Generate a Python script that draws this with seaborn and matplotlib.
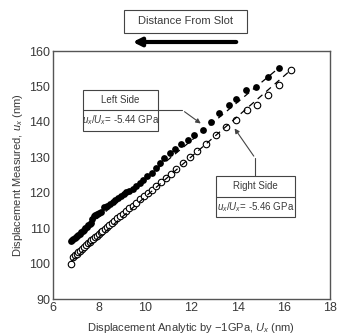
import matplotlib
matplotlib.use('Agg')
import matplotlib.pyplot as plt
from matplotlib.patches import Rectangle
import seaborn as sns
import pandas as pd

# left side (filled) measured points
left_x = [6.78, 6.83, 6.88, 6.93, 6.98, 7.04, 7.10, 7.16, 7.22, 7.28, 7.34, 7.40, 7.46, 7.52,
          7.58, 7.64, 7.70, 7.76, 7.82, 7.90, 7.98, 8.06, 8.22, 8.34, 8.46, 8.58, 8.70, 8.82,
          8.94, 9.06, 9.18, 9.30, 9.45, 9.60, 9.75, 9.90, 10.08, 10.28, 10.45, 10.62, 10.82,
          11.05, 11.28, 11.54, 11.83, 12.12, 12.48, 12.84, 13.20, 13.62, 13.95, 14.38, 14.80,
          15.30, 15.78]
left_y = [106.4, 106.7, 107.0, 107.3, 107.6, 107.9, 108.2, 108.5, 108.9, 109.2, 109.6, 110.0,
          110.4, 110.8, 111.2, 111.6, 112.6, 113.4, 113.7, 113.9, 114.2, 114.5, 115.9, 116.4,
          116.9, 117.4, 118.0, 118.6, 119.0, 119.6, 120.1, 120.6, 121.2, 122.0, 122.8, 123.6,
          124.6, 125.7, 126.9, 128.3, 129.8, 131.2, 132.3, 133.8, 134.9, 136.3, 137.7, 140.0,
          142.4, 144.7, 146.6, 149.0, 149.9, 152.8, 155.1]

# right side (open) measured points
right_x = [6.78, 6.86, 6.94, 7.02, 7.10, 7.18, 7.26, 7.34, 7.42, 7.50, 7.58, 7.66, 7.74, 7.82,
           7.90, 7.98, 8.06, 8.14, 8.24, 8.34, 8.44, 8.55, 8.66, 8.78, 8.90, 9.02, 9.15, 9.30,
           9.45, 9.60, 9.76, 9.93, 10.10, 10.28, 10.47, 10.67, 10.88, 11.10, 11.35, 11.62,
           11.92, 12.25, 12.62, 13.05, 13.50, 13.95, 14.40, 14.85, 15.30, 15.80, 16.30]
right_y = [100.0, 101.9, 102.3, 102.7, 103.2, 103.7, 104.2, 104.7, 105.2, 105.7, 106.2, 106.6,
           107.0, 107.5, 107.9, 108.4, 108.8, 109.3, 109.8, 110.4, 110.9, 111.5, 112.1, 112.8,
           113.4, 114.0, 114.8, 115.6, 116.4, 117.2, 118.1, 119.0, 120.0, 120.9, 122.0, 123.1,
           124.2, 125.4, 126.8, 128.3, 130.0, 131.8, 133.9, 136.3, 138.5, 140.5, 143.3, 144.7,
           147.6, 150.4, 154.6]

# dashed fit lines (end points)
left_fit_x = [6.78, 15.78]
left_fit_y = [106.6, 155.2]
right_fit_x = [6.78, 16.30]
right_fit_y = [100.6, 154.6]

sns.set_style('white')
plt.rcParams['font.family'] = ['Liberation Sans', 'DejaVu Sans']
plt.rcParams['mathtext.fontset'] = 'custom'
plt.rcParams['mathtext.it'] = 'Liberation Sans:italic'
plt.rcParams['mathtext.rm'] = 'Liberation Sans'

txt = '#3a3a3a'
fig = plt.figure(figsize=(3.38, 3.36), dpi=100)
ax = fig.add_axes([0.157, 0.110, 0.819, 0.738])

df_l = pd.DataFrame({'x': left_x, 'y': left_y})
df_r = pd.DataFrame({'x': right_x, 'y': right_y})

sns.scatterplot(data=df_l, x='x', y='y', ax=ax, color='black', s=24, linewidth=0, zorder=3)
sns.scatterplot(data=df_r, x='x', y='y', ax=ax, facecolor='white', edgecolor='black',
                s=22, linewidth=0.8, zorder=2)
sns.lineplot(x=left_fit_x, y=left_fit_y, ax=ax, color='black', lw=0.9, dashes=(5, 4),
             zorder=2.5)
sns.lineplot(x=right_fit_x, y=right_fit_y, ax=ax, color='black', lw=0.9, dashes=(5, 4),
             zorder=4)

ax.set_xlim(6, 18)
ax.set_ylim(90, 160)
ax.set_xticks([6, 8, 10, 12, 14, 16, 18])
ax.set_yticks([90, 100, 110, 120, 130, 140, 150, 160])
ax.tick_params(length=0, labelsize=9, labelcolor=txt, pad=2)
for s in ax.spines.values():
    s.set_color('#555555')
    s.set_linewidth(1.0)

ax.set_xlabel('Displacement Analytic by \u22121GPa, $U_x$ (nm)', fontsize=8, color=txt,
              labelpad=5)
ax.set_ylabel('Displacement Measured, $u_x$ (nm)', fontsize=8, color=txt, labelpad=3)

# annotation boxes
def label_box(x0, x1, y_bot, y_mid, y_top, title, value):
    ax.add_patch(Rectangle((x0, y_bot), x1 - x0, y_top - y_bot, fill=True, fc='white',
                           ec='#444444', lw=0.8, zorder=5))
    ax.plot([x0, x1], [y_mid, y_mid], color='#444444', lw=0.8, zorder=6)
    xc = (x0 + x1) / 2
    ax.text(xc, (y_mid + y_top) / 2, title, ha='center', va='center', fontsize=7,
            color=txt, zorder=7)
    ax.text(xc, (y_bot + y_mid) / 2, value, ha='center', va='center', fontsize=7,
            color=txt, zorder=7)

label_box(7.28, 10.57, 137.5, 143.35, 149.0, 'Left Side', '$u_x$/$U_x$= -5.44 GPa')
label_box(13.08, 16.50, 113.1, 118.9, 124.7, 'Right Side', '$u_x$/$U_x$= -5.46 GPa')

# leader lines
ax.plot([10.57, 11.6], [143.35, 143.35], color='#444444', lw=0.8, zorder=5)
ax.annotate('', xy=(12.5, 139.1), xytext=(11.6, 143.35),
            arrowprops=dict(arrowstyle='-|>', color='#444444', lw=0.8, mutation_scale=7),
            zorder=5)
ax.plot([14.77, 14.77], [124.7, 129.7], color='#444444', lw=0.8, zorder=5)
ax.annotate('', xy=(13.8, 138.8), xytext=(14.77, 129.7),
            arrowprops=dict(arrowstyle='-|>', color='#444444', lw=0.8, mutation_scale=7),
            zorder=5)

# top "Distance From Slot" box and arrow
fig.patches.append(Rectangle((124 / 338, 1 - 33 / 336), 123 / 338, 23 / 336,
                             transform=fig.transFigure, fill=False, ec='#444444', lw=0.8))
fig.text(185.5 / 338, 1 - 21.5 / 336, 'Distance From Slot', ha='center', va='center',
         fontsize=8, color=txt)
fig.add_artist(plt.Annotation('', xy=(130 / 338, 1 - 42 / 336), xytext=(239 / 338, 1 - 42 / 336),
                              xycoords='figure fraction', textcoords='figure fraction',
                              arrowprops=dict(arrowstyle='-|>', color='black', lw=3,
                                              mutation_scale=12)))

fig.savefig('out.png', dpi=100)
